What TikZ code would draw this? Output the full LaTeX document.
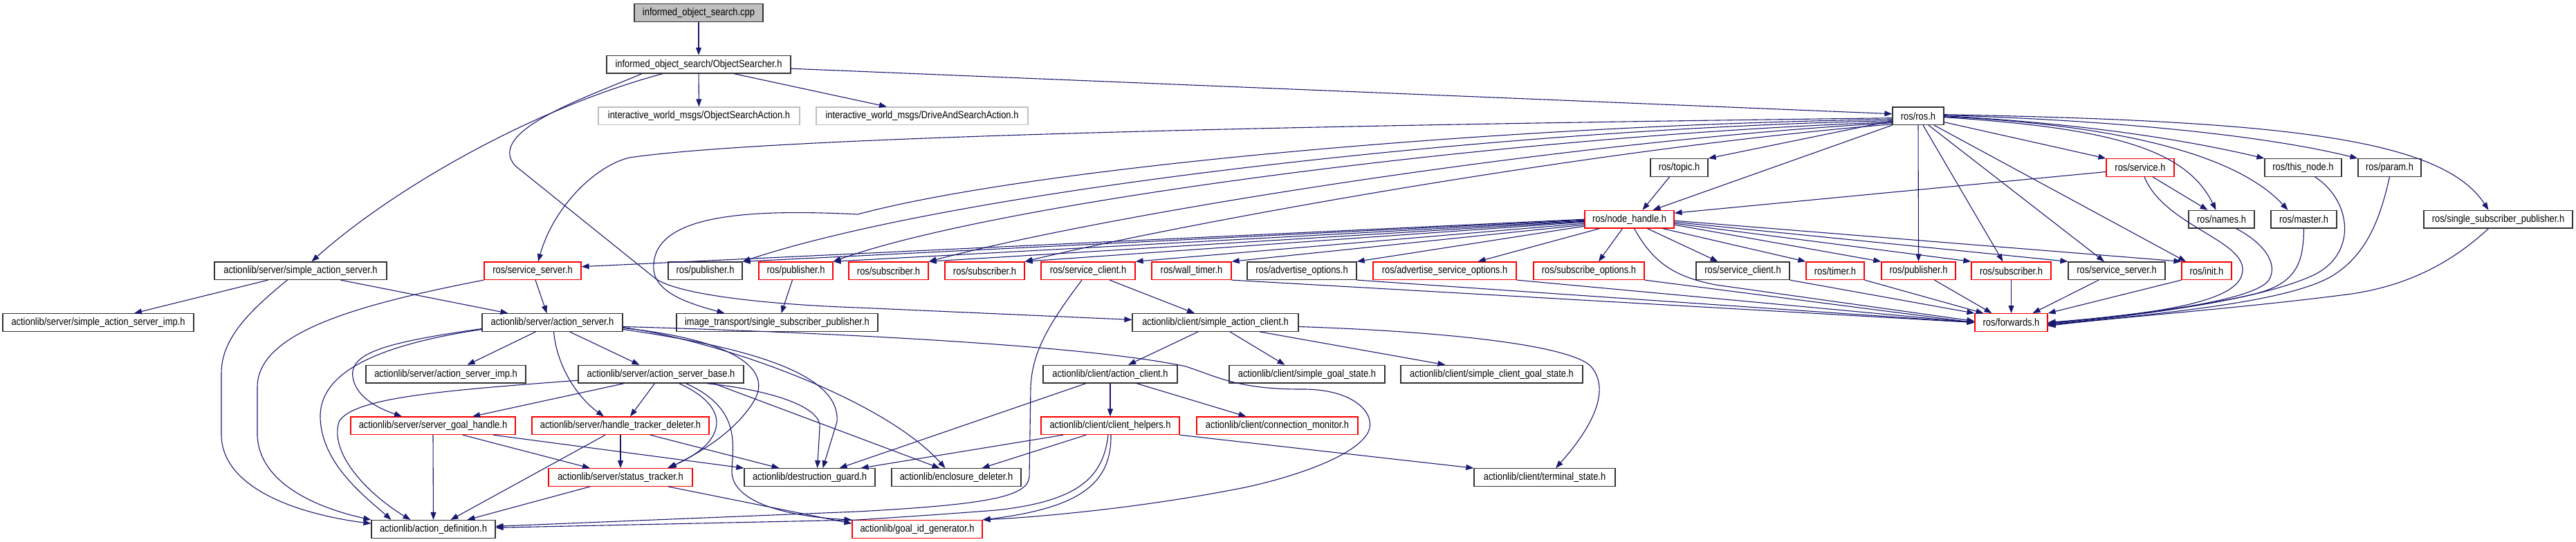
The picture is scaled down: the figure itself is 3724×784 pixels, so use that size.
\documentclass[tikz,border=0pt]{standalone}
\usepackage{fontspec}
\newfontfamily\dotfont{Liberation Sans}[FakeStretch=0.86]
\usetikzlibrary{arrows.meta}
\definecolor{navy}{HTML}{191970}
\definecolor{grayb}{HTML}{BFBFBF}
\definecolor{nblack}{HTML}{333333}
\tikzset{
  nb/.style={draw=nblack, line width=1.2pt, rectangle, minimum height=25.6pt, inner sep=0pt, fill=white, font=\dotfont\fontsize{15pt}{18pt}\selectfont},
  nr/.style={nb, draw=red},
  ng/.style={nb, draw=grayb},
  rootnode/.style={nb, fill=grayb},
  e/.style={draw=navy, line width=1.1pt, -{Triangle[length=11pt,width=8pt]}}
}
\begin{document}
\begin{tikzpicture}[x=1pt,y=-1pt]
\useasboundingbox (0,0) rectangle (3724,784);
% row 0-4
\node[rootnode, minimum width=186pt] (cpp) at (1010,18.5) {informed\_object\_search.cpp};
\node[nb, minimum width=266pt] (os) at (1010,93.2) {informed\_object\_search/ObjectSearcher.h};
\node[ng, minimum width=291pt] (osa) at (1010.5,167.7) {interactive\_world\_msgs/ObjectSearchAction.h};
\node[ng, minimum width=306pt] (dsa) at (1333,167.7) {interactive\_world\_msgs/DriveAndSearchAction.h};
\node[nb, minimum width=74pt] (rosh) at (2773,167.7) {ros/ros.h};
\node[nb, minimum width=83pt] (topic) at (2427.5,242.5) {ros/topic.h};
\node[nr, minimum width=98pt] (service) at (3094,242.5) {ros/service.h};
\node[nb, minimum width=111pt] (thisnode) at (3329.5,242.5) {ros/this\_node.h};
\node[nb, minimum width=91pt] (param) at (3454.5,242.5) {ros/param.h};
\node[nr, minimum width=129pt] (nh) at (2355.5,317.2) {ros/node\_handle.h};
\node[nb, minimum width=95pt] (names) at (3211.5,317.2) {ros/names.h};
\node[nb, minimum width=95pt] (master) at (3330.5,317.2) {ros/master.h};
\node[nb, minimum width=215pt] (ssp) at (3611.5,317.2) {ros/single\_subscriber\_publisher.h};
% row 5
\node[nb, minimum width=249pt] (sas) at (434.5,391.7) {actionlib/server/simple\_action\_server.h};
\node[nr, minimum width=140pt] (ssA) at (770,391.7) {ros/service\_server.h};
\node[nb, minimum width=107pt] (pubA) at (1019.5,391.7) {ros/publisher.h};
\node[nr, minimum width=107pt] (pubB) at (1150.5,391.7) {ros/publisher.h};
\node[nr, minimum width=115pt] (subA) at (1284.5,391.7) {ros/subscriber.h};
\node[nr, minimum width=115pt] (subB) at (1423.5,391.7) {ros/subscriber.h};
\node[nr, minimum width=136pt] (scA) at (1573,391.7) {ros/service\_client.h};
\node[nr, minimum width=115pt] (wt) at (1722.5,391.7) {ros/wall\_timer.h};
\node[nb, minimum width=158pt] (ao) at (1882,391.7) {ros/advertise\_options.h};
\node[nr, minimum width=207pt] (aso) at (2088.5,391.7) {ros/advertise\_service\_options.h};
\node[nr, minimum width=160pt] (so) at (2297,391.7) {ros/subscribe\_options.h};
\node[nb, minimum width=135pt] (scB) at (2519.5,391.7) {ros/service\_client.h};
\node[nr, minimum width=84pt] (timer) at (2653,391.7) {ros/timer.h};
\node[nr, minimum width=107pt] (pubC) at (2773.5,391.7) {ros/publisher.h};
\node[nr, minimum width=115pt] (subC) at (2907.5,391.7) {ros/subscriber.h};
\node[nb, minimum width=140pt] (ssB) at (3060,391.7) {ros/service\_server.h};
\node[nr, minimum width=72pt] (init) at (3190,391.7) {ros/init.h};
% row 6
\node[nb, minimum width=276pt] (sasimp) at (142,466.5) {actionlib/server/simple\_action\_server\_imp.h};
\node[nb, minimum width=203pt] (as) at (798.5,466.5) {actionlib/server/action\_server.h};
\node[nb, minimum width=291pt] (it) at (1123.5,466.5) {image\_transport/single\_subscriber\_publisher.h};
\node[nb, minimum width=240pt] (sac) at (1757,466.5) {actionlib/client/simple\_action\_client.h};
\node[nr, minimum width=105pt] (fwd) at (2907.5,466.5) {ros/forwards.h};
% row 7
\node[nb, minimum width=231pt] (asimp) at (644.5,541.2) {actionlib/server/action\_server\_imp.h};
\node[nb, minimum width=239pt] (asb) at (955.5,541.2) {actionlib/server/action\_server\_base.h};
\node[nb, minimum width=194pt] (ac) at (1605,541.2) {actionlib/client/action\_client.h};
\node[nb, minimum width=225pt] (sgs) at (1889.5,541.2) {actionlib/client/simple\_goal\_state.h};
\node[nb, minimum width=263pt] (scgs) at (2156.5,541.2) {actionlib/client/simple\_client\_goal\_state.h};
% row 8
\node[nr, minimum width=238pt] (sgh) at (626,615.8) {actionlib/server/server\_goal\_handle.h};
\node[nr, minimum width=256pt] (htd) at (897,615.8) {actionlib/server/handle\_tracker\_deleter.h};
\node[nr, minimum width=200pt] (ch) at (1605,615.8) {actionlib/client/client\_helpers.h};
\node[nr, minimum width=233pt] (cm) at (1846.5,615.8) {actionlib/client/connection\_monitor.h};
% row 9
\node[nr, minimum width=208pt] (st) at (897,690.5) {actionlib/server/status\_tracker.h};
\node[nb, minimum width=189pt] (dg) at (1170.5,690.5) {actionlib/destruction\_guard.h};
\node[nb, minimum width=187pt] (ed) at (1382.5,690.5) {actionlib/enclosure\_deleter.h};
\node[nb, minimum width=204pt] (ts) at (2233,690.5) {actionlib/client/terminal\_state.h};
% row 10
\node[nb, minimum width=179pt] (ad) at (626.5,765.3) {actionlib/action\_definition.h};
\node[nr, minimum width=188pt] (gid) at (1326,765.3) {actionlib/goal\_id\_generator.h};

% ---- edges: top
\draw[e] (cpp) -- (os);
\draw[e] (os) -- (osa);
\draw[e] ([xshift=51pt]os.south) -- ([xshift=-51pt]dsa.north);
\draw[e] ([yshift=-6pt]os.east) -- ([yshift=3pt]rosh.west);
\draw[e] ([xshift=-52pt]os.south) .. controls (760,160) and (560,280) .. ([xshift=16pt]sas.north);
\draw[e] ([xshift=-82pt]os.south) .. controls (850,140) and (700,190) .. (745,240) -- (944,400) .. controls (970,425) and (1100,440) .. (1240,445) -- ([yshift=4pt]sac.west);
% ros.h left
\draw[e] ([yshift=-3pt]rosh.west) .. controls (1800,182) and (1100,200) .. (910,228) .. controls (860,240) and (800,300) .. ([xshift=8pt]ssA.north);
\draw[e] ([yshift=-5pt]rosh.west) .. controls (2200,180) and (1500,240) .. (1240,310) .. controls (1080,302) and (940,310) .. (945,390) .. controls (948,425) and (1000,440) .. ([xshift=-76pt]it.north);
\draw[e] ([yshift=-7pt]rosh.west) .. controls (2200,185) and (1400,270) .. (pubA.north east);
\draw[e] ([yshift=-9pt]rosh.west) .. controls (2200,195) and (1450,290) .. (pubB.north east);
\draw[e] ([yshift=-10pt]rosh.west) .. controls (2250,205) and (1600,310) .. (subA.north east);
\draw[e] ([yshift=-12pt]rosh.west) .. controls (2300,215) and (1700,325) .. (subB.north east);
\draw[e] ([yshift=-7pt]rosh.west) -- (topic.north east);
\draw[e] (rosh.south west) -- ([xshift=34pt]nh.north);
% ros.h down/right
\draw[e] (rosh.south) -- (pubC.north);
\draw[e] ([xshift=7pt]rosh.south) -- ([xshift=-12pt]subC.north);
\draw[e] ([xshift=15pt]rosh.south) -- ([xshift=-18pt]ssB.north);
\draw[e] ([xshift=23pt]rosh.south) -- ([xshift=-30pt]init.north);
\draw[e] ([yshift=-9pt]rosh.east) -- (service.north west);
\draw[e] ([yshift=-2pt]rosh.east) .. controls (3050,185) and (3160,215) .. ([xshift=-8pt]names.north);
\draw[e] ([yshift=-1pt]rosh.east) .. controls (3050,180) and (3230,220) .. ([xshift=-23pt]master.north);
\draw[e] (rosh.east) .. controls (3000,178) and (3150,200) .. (thisnode.north west);
\draw[e] ([yshift=1pt]rosh.east) .. controls (3000,172) and (3250,190) .. (param.north west);
\draw[e] ([yshift=2pt]rosh.east) .. controls (3300,175) and (3530,200) .. ([xshift=-14pt]ssp.north);
% node_handle
\draw[e] (nh.west) -- ([yshift=6pt]ssA.east);
\draw[e] ([yshift=-1pt]nh.west) -- (pubA.north east);
\draw[e] ([yshift=-2pt]nh.west) -- (pubB.north east);
\draw[e] ([yshift=-3pt]nh.west) -- (subA.north east);
\draw[e] ([yshift=-4pt]nh.west) -- (subB.north east);
\draw[e] ([yshift=-6pt]nh.west) -- (scA.north east);
\draw[e] ([yshift=-8pt]nh.west) -- (wt.north east);
\draw[e] ([yshift=-10pt]nh.west) -- (ao.north east);
\draw[e] ([xshift=-43pt]nh.south) -- ([xshift=48pt]aso.north);
\draw[e] ([xshift=-10pt]nh.south) -- ([xshift=14pt]so.north);
\draw[e] ([xshift=26pt]nh.south) -- ([xshift=-36pt]scB.north);
\draw[e] ([xshift=48pt]nh.south) -- (timer.north west);
\draw[e] ([yshift=-8pt]nh.east) -- (pubC.north west);
\draw[e] ([yshift=-6pt]nh.east) -- (subC.north west);
\draw[e] ([yshift=-4pt]nh.east) -- (ssB.north west);
\draw[e] ([yshift=-2pt]nh.east) -- (init.north west);
\draw[e] ([xshift=7pt]nh.south) .. controls (2390,380) and (2420,400) .. (2480,412) -- ([yshift=2pt]fwd.west);
% into forwards
\draw[e] (wt.south east) -- (fwd.west);
\draw[e] (ao.south east) -- (fwd.west);
\draw[e] (aso.south east) -- (fwd.west);
\draw[e] (so.south east) -- (fwd.west);
\draw[e] (scB.south east) -- (fwd.north west);
\draw[e] (timer.south east) -- ([xshift=-40pt]fwd.north);
\draw[e] ([xshift=23pt]pubC.south) -- ([xshift=-28pt]fwd.north);
\draw[e] (subC.south) -- (fwd.north);
\draw[e] ([xshift=-26pt]ssB.south) -- ([xshift=31pt]fwd.north);
\draw[e] (init.south west) -- (fwd.north east);
\draw[e] ([xshift=6pt]service.south) .. controls (3130,330) and (3260,350) .. (3240,400) .. controls (3225,440) and (3100,455) .. (fwd.east);
\draw[e] ([xshift=21pt]names.south) .. controls (3270,350) and (3295,380) .. (3280,405) .. controls (3260,435) and (3100,455) .. ([yshift=-1pt]fwd.east);
\draw[e] (master.south) .. controls (3330,380) and (3320,410) .. (3260,425) .. controls (3180,445) and (3050,458) .. ([yshift=-2pt]fwd.east);
\draw[e] ([xshift=17pt]thisnode.south) .. controls (3400,290) and (3410,370) .. (3340,400) .. controls (3260,435) and (3100,455) .. ([yshift=-3pt]fwd.east);
\draw[e] (param.south) .. controls (3440,320) and (3420,370) .. (3370,400) .. controls (3300,440) and (3100,455) .. ([yshift=-4pt]fwd.east);
\draw[e] ([xshift=-14pt]ssp.south) .. controls (3560,365) and (3500,410) .. (3400,425) .. controls (3250,445) and (3050,460) .. ([yshift=-5pt]fwd.east);
% ros misc
\draw[e] ([xshift=-14pt]topic.south) -- ([xshift=19pt]nh.north);
\draw[e] ([yshift=-6pt]service.west) -- ([yshift=9pt]nh.east);
\draw[e] ([xshift=18pt]service.south) -- ([xshift=-20pt]names.north);
\draw[e] ([xshift=-5pt]pubB.south) -- ([xshift=6pt]it.north);
% actionlib server
\draw[e] ([xshift=-47pt]sas.south) -- ([xshift=52pt]sasimp.north);
\draw[e] ([xshift=58pt]sas.south) -- ([xshift=-64pt]as.north);
\draw[e] ([xshift=-19pt]sas.south) .. controls (360,450) and (320,490) .. (320,540) -- (320,630) .. controls (322,710) and (440,745) .. ([yshift=8pt]ad.west);
\draw[e] ([xshift=4pt]ssA.south) -- ([xshift=-8pt]as.north);
\draw[e] (ssA.south west) .. controls (520,440) and (372,480) .. (372,560) -- (372,630) .. controls (375,700) and (460,735) .. (ad.north west);
\draw[e] ([xshift=-24pt]as.south) -- ([xshift=31pt]asimp.north);
\draw[e] ([xshift=25pt]as.south) -- ([xshift=-31pt]asb.north);
\draw[e] ([xshift=2pt]as.south) .. controls (805,530) and (835,575) .. ([xshift=-24pt]htd.north);
\draw[e] ([yshift=-9pt]as.west) .. controls (560,495) and (505,510) .. (510,545) .. controls (515,580) and (560,595) .. ([xshift=-45pt]sgh.north);
\draw[e] ([yshift=-10pt]as.west) .. controls (540,500) and (465,540) .. (463,600) .. controls (462,670) and (530,720) .. ([xshift=-61pt]ad.north);
\draw[e] ([yshift=-8pt]as.east) .. controls (1050,490) and (1120,530) .. (1090,580) .. controls (1060,630) and (1000,660) .. ([xshift=70pt]st.north);
\draw[e] ([yshift=-10pt]as.east) .. controls (1100,505) and (1215,545) .. (1210,610) -- ([xshift=19pt]dg.north);
\draw[e] ([yshift=-7pt]as.east) .. controls (1050,495) and (1280,580) .. ([xshift=-16pt]ed.north);
\draw[e] ([yshift=-6pt]as.east) .. controls (1100,478) and (1550,495) .. (1714,530) .. controls (1760,545) and (1790,563) .. (1880,563) .. controls (1960,562) and (1990,600) .. (1978,625) .. controls (1960,660) and (1870,690) .. (1800,705) .. controls (1650,735) and (1500,748) .. (gid.north east);
\draw[e] ([xshift=-53pt]asb.south) -- ([xshift=57pt]sgh.north);
\draw[e] ([xshift=-9pt]asb.south) -- ([xshift=14pt]htd.north);
\draw[e] ([xshift=26pt]asb.south) .. controls (1060,590) and (1050,640) .. ([xshift=68pt]st.north);
\draw[e] ([xshift=36pt]asb.south) .. controls (1070,590) and (1060,640) .. (1058,680) .. controls (1056,730) and (1150,748) .. (gid.north west);
\draw[e] ([xshift=66pt]asb.south) .. controls (1120,565) and (1190,590) .. (1185,620) -- ([xshift=11pt]dg.north);
\draw[e] ([xshift=76pt]asb.south) -- ([xshift=-24pt]ed.north);
\draw[e] ([yshift=-9pt]asb.west) .. controls (640,565) and (510,575) .. (490,610) .. controls (475,660) and (540,720) .. ([xshift=-33pt]ad.north);
\draw[e] (sgh.south) -- (ad.north);
\draw[e] ([xshift=43pt]sgh.south) -- ([xshift=-44pt]st.north);
\draw[e] ([xshift=87pt]sgh.south) -- (dg.north west);
\draw[e] ([xshift=-22pt]htd.south) -- ([xshift=25pt]ad.north);
\draw[e] (htd.south) -- (st.north);
\draw[e] ([xshift=43pt]htd.south) -- ([xshift=-44pt]dg.north);
\draw[e] ([xshift=-44pt]st.south) -- ([xshift=49pt]ad.north);
\draw[e] ([xshift=69pt]st.south) -- ([yshift=8pt]gid.west);
% actionlib client
\draw[e] ([xshift=-25pt]sac.south) -- ([xshift=26pt]ac.north);
\draw[e] ([xshift=21pt]sac.south) -- ([xshift=-32pt]sgs.north);
\draw[e] ([xshift=64pt]sac.south) -- ([xshift=-67pt]scgs.north);
\draw[e] ([yshift=-6pt]sac.east) .. controls (2100,480) and (2270,500) .. (2300,530) .. controls (2330,565) and (2300,620) .. ([xshift=16pt]ts.north);
\draw[e] ([xshift=31pt]scA.south) -- ([xshift=-30pt]sac.north);
\draw[e] ([xshift=-9pt]scA.south) .. controls (1515,470) and (1492,510) .. (1490,560) -- (1488,690) .. controls (1485,720) and (1420,730) .. (1240,740) -- ([yshift=4pt]ad.east);
\draw[e] ([xshift=-35pt]ac.south) -- ([xshift=43pt]dg.north);
\draw[e] (ac.south) -- (ch.north);
\draw[e] ([xshift=38pt]ac.south) -- ([xshift=-45pt]cm.north);
\draw[e] ([xshift=-68pt]ch.south) -- ([xshift=74pt]dg.north);
\draw[e] ([xshift=-35pt]ch.south) -- ([xshift=37pt]ed.north);
\draw[e] ([xshift=1pt]ch.south) .. controls (1607,700) and (1560,735) .. (gid.north east);
\draw[e] ([xshift=-3pt]ch.south) .. controls (1595,690) and (1560,725) .. (1440,738) .. controls (1350,745) and (1270,750) .. (1240,752) -- ([yshift=2pt]ad.east);
\draw[e] (ch.south east) -- (ts.north west);
\end{tikzpicture}
\end{document}
